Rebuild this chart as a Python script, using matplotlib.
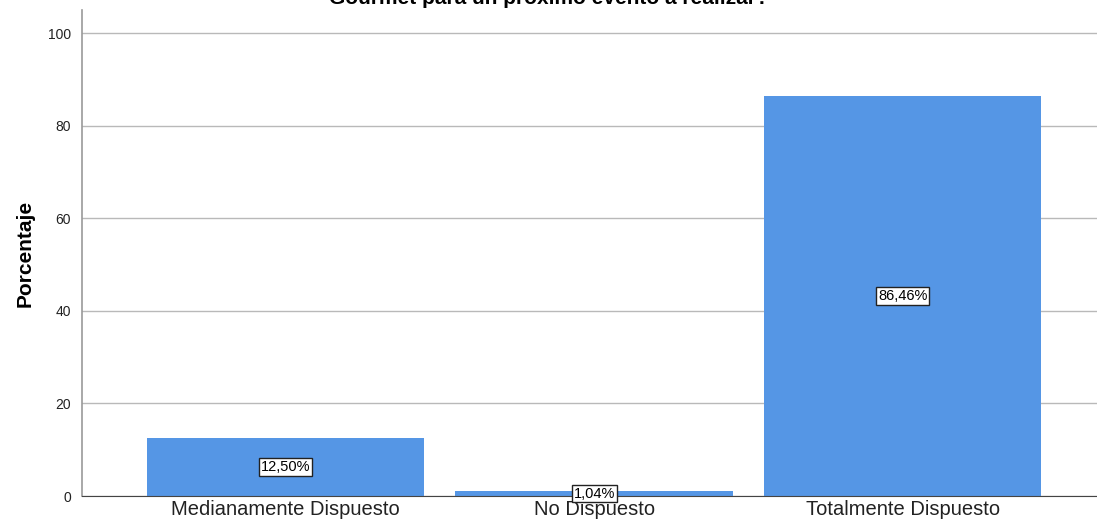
import matplotlib
matplotlib.use('Agg')
import matplotlib.pyplot as plt

plt.rcParams['font.family'] = ['Liberation Sans', 'DejaVu Sans']

# Datos
categorias = ['Medianamente Dispuesto', 'No Dispuesto', 'Totalmente Dispuesto']
porcentajes = [12.50, 1.04, 86.46]
etiquetas = ['12,50%', '1,04%', '86,46%']
yticks = [0, 20, 40, 60, 80, 100]

fig = plt.figure(figsize=(10.97, 5.28), dpi=100)
ax = fig.add_axes([0.0747, 0.0606, 0.9253, 0.9205])

x = list(range(len(categorias)))
ax.bar(x, porcentajes, width=0.9, color='#5596E5', zorder=2)

for xi, v, lab in zip(x, porcentajes, etiquetas):
    ax.text(xi, v / 2, lab, ha='center', va='center', fontsize=10.5, zorder=3,
            bbox=dict(boxstyle='square,pad=0.12', fc='white', ec='#222222', lw=1))

ax.set_xlim(-0.66, 2.63)
ax.set_ylim(0, 105)
ax.set_yticks(yticks)
ax.set_xticks(x)
ax.set_xticklabels(categorias, fontsize=14.5, color='#222222')
ax.tick_params(axis='y', length=0, labelsize=10, colors='#222222', pad=8)
ax.tick_params(axis='x', length=0, pad=3)
ax.yaxis.grid(True, color='#b9b9b9', lw=1, zorder=0)
ax.set_axisbelow(True)
for s in ['top', 'right']:
    ax.spines[s].set_visible(False)
ax.spines['left'].set_color('#999999')
ax.spines['left'].set_linewidth(1.2)
ax.spines['bottom'].set_color('#444444')
ax.set_ylabel('Porcentaje', fontsize=15, fontweight='bold')
ax.yaxis.set_label_coords(-0.047, 0.5)

fig.text(0.5, 1 - 4 / 528, 'Gourmet para un próximo evento a realizar?',
         ha='center', va='baseline', fontsize=15, fontweight='bold')

fig.savefig('out.png', dpi=100)
